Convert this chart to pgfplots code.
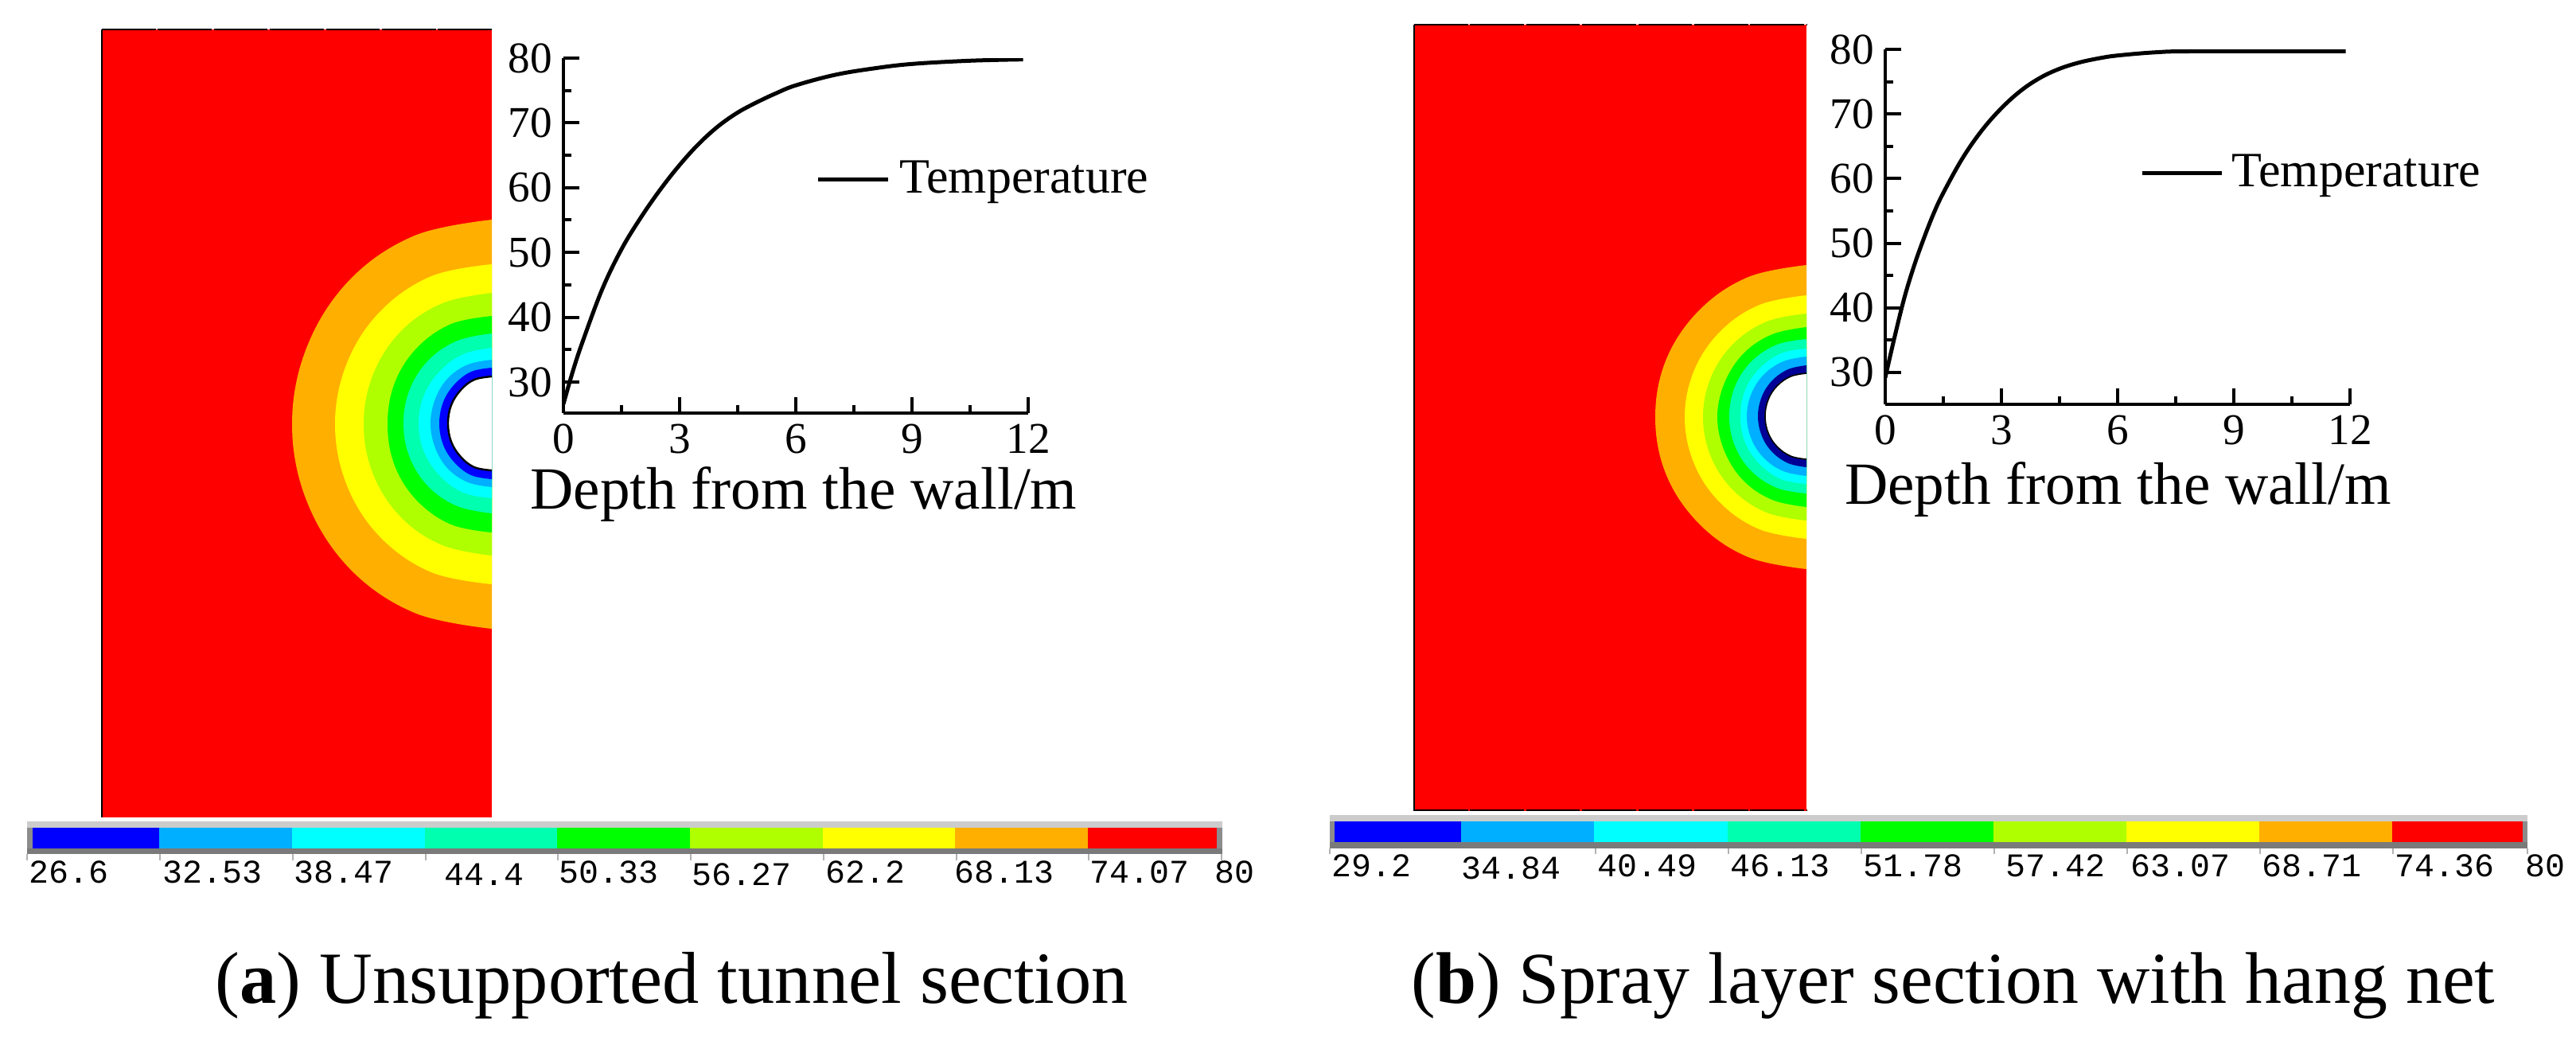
\documentclass[border=0pt]{standalone}
\usepackage{fontspec}
\setmainfont{Liberation Serif}
\newfontfamily\barfont{Liberation Mono}
\usepackage{pgfplots}
\pgfplotsset{compat=1.18}

% contour / colour bar colours
\definecolor{cBlue}{RGB}{0,0,255}
\definecolor{cNavy}{RGB}{0,0,150}
\definecolor{cSky}{RGB}{0,175,255}
\definecolor{cCyan}{RGB}{0,255,255}
\definecolor{cTeal}{RGB}{0,255,175}
\definecolor{cGreen}{RGB}{0,255,0}
\definecolor{cLime}{RGB}{175,255,0}
\definecolor{cYellow}{RGB}{255,255,0}
\definecolor{cOrange}{RGB}{255,175,0}
\definecolor{cRed}{RGB}{255,0,0}

\tikzset{
    barlabel/.style={anchor=base west,inner sep=0pt,font=\barfont\fontsize{10.4}{11}\selectfont},
}
\pgfplotsset{
    band/.style={fill=#1,draw=none,smooth,tension=0.625},
    box/.style={fill=#1,draw=none},
    tempaxis/.style={
        scale only axis,
        width=146pt,
        height=111.5pt,
        anchor=south west,
        axis lines*=left,
        axis line style={line width=1.1pt},
        xmin=0,xmax=12,ymax=80,
        xtick={0,3,6,9,12},
        ytick={30,40,50,60,70,80},
        minor tick num=1,
        tick align=inside,
        major tick length=5pt,
        minor tick length=2.5pt,
        every tick/.style={black,line width=1pt},
        tick label style={font=\fontsize{13.8}{14}\selectfont},
        /pgf/number format/assume math mode=true,
        xlabel={Depth from the wall/m},
        legend style={draw=none,fill=none,anchor=west,font=\fontsize{15.5}{16}\selectfont,inner sep=0pt},
    },
}

\begin{document}
\begin{tikzpicture}
\useasboundingbox (0,0) rectangle (809.25pt,-329.5pt);

% everything but the two curves, in picture pixels
\begin{axis}[
    at={(0,0)},anchor=north west,
    x=0.25pt,y=0.25pt,
    y dir=reverse,
    xmin=0,xmax=3237,ymin=0,ymax=1318,
    hide axis,clip=false,
]
% panel a contours
\addplot[box=cRed] coordinates {(128,37)(618,37)(618,1027)(128,1027)};
\addplot[black,line width=0.7pt,dash pattern=on 16.9pt off 0.7pt] coordinates {(128,37)(618,37)};
\addplot[black,line width=0.6pt] coordinates {(128,37)(128,1027)};
\addplot[band=cOrange] coordinates {(618,276)(521,296)(440,351)(386,435)(367,533)(386,631)(440,715)(521,770)(618,790)};
\addplot[band=cYellow] coordinates {(618,332)(542,347)(478,391)(436,456)(421,533)(436,610)(478,675)(542,719)(618,734)};
\addplot[band=cLime] coordinates {(618,368)(556,381)(504,416)(469,470)(457,533)(469,596)(504,650)(556,685)(618,698)};
\addplot[band=cGreen] coordinates {(618,397)(567,407)(524,437)(496,481)(487,533)(496,585)(524,629)(567,659)(618,669)};
\addplot[band=cTeal] coordinates {(618,419)(575,428)(539,452)(515,489)(507,532)(515,575)(539,612)(575,636)(618,645)};
\addplot[band=cCyan] coordinates {(618,437)(582,445)(553,466)(533,496)(526,532)(533,568)(553,598)(582,619)(618,626)};
\addplot[band=cSky] coordinates {(618,452)(588,458)(563,475)(547,501)(541,532)(547,563)(563,589)(588,606)(618,612)};
\addplot[band=cBlue] coordinates {(618,462)(592,467)(571,483)(557,505)(552,532)(557,559)(571,581)(592,597)(618,602)};
\addplot[fill=white,draw=black,line width=0.6pt,smooth,tension=0.625] coordinates {(618,473)(596,477)(579,490)(567,509)(563,532)(567,555)(579,574)(596,587)(618,591)};

% panel b contours
\addplot[box=cRed] coordinates {(1777,31)(2270,31)(2270,1019)(1777,1019)};
\addplot[black,line width=0.7pt,dash pattern=on 16.9pt off 0.7pt] coordinates {(1777,31)(2270,31)};
\addplot[black,line width=0.7pt,dash pattern=on 16.9pt off 0.7pt] coordinates {(1777,1018)(2270,1018)};
\addplot[black,line width=0.6pt] coordinates {(1777,31)(1777,1019)};
\addplot[band=cOrange] coordinates {(2270,333)(2197,348)(2136,389)(2094,451)(2080,524)(2094,597)(2136,659)(2197,700)(2270,715)};
\addplot[band=cYellow] coordinates {(2270,371)(2211,383)(2162,416)(2129,465)(2117,524)(2129,583)(2162,632)(2211,665)(2270,677)};
\addplot[band=cLime] coordinates {(2270,394)(2220,404)(2178,432)(2150,474)(2140,524)(2150,574)(2178,616)(2220,644)(2270,654)};
\addplot[band=cGreen] coordinates {(2270,411)(2227,420)(2191,444)(2167,481)(2158,524)(2167,567)(2191,604)(2227,628)(2270,637)};
\addplot[band=cTeal] coordinates {(2270,426)(2233,433)(2201,454)(2180,486)(2173,523)(2180,560)(2201,592)(2233,613)(2270,620)};
\addplot[band=cCyan] coordinates {(2270,438)(2238,444)(2211,463)(2193,490)(2187,523)(2193,556)(2211,583)(2238,602)(2270,608)};
\addplot[band=cSky] coordinates {(2270,448)(2241,454)(2217,470)(2201,494)(2195,523)(2201,552)(2217,576)(2241,592)(2270,598)};
\addplot[band=cNavy] coordinates {(2270,459)(2247,464)(2227,478)(2214,498)(2209,523)(2214,548)(2227,568)(2247,582)(2270,587)};
\addplot[fill=white,draw=black,line width=0.4pt,smooth,tension=0.625] coordinates {(2270,469)(2250,473)(2233,485)(2222,502)(2218,523)(2222,544)(2233,561)(2250,573)(2270,577)};

% colour bar a
\addplot[box={black!45}] coordinates {(34,1032)(1536,1032)(1536,1073)(34,1073)};
\addplot[box={black!20}] coordinates {(34,1032)(1536,1032)(1536,1040)(34,1040)};
\addplot[box={black!52}] coordinates {(34,1066)(1536,1066)(1536,1073)(34,1073)};
\addplot[box=cBlue] coordinates {(41,1040)(200,1040)(200,1066)(41,1066)};
\addplot[box=cSky] coordinates {(200,1040)(367,1040)(367,1066)(200,1066)};
\addplot[box=cCyan] coordinates {(367,1040)(534,1040)(534,1066)(367,1066)};
\addplot[box=cTeal] coordinates {(534,1040)(700,1040)(700,1066)(534,1066)};
\addplot[box=cGreen] coordinates {(700,1040)(867,1040)(867,1066)(700,1066)};
\addplot[box=cLime] coordinates {(867,1040)(1034,1040)(1034,1066)(867,1066)};
\addplot[box=cYellow] coordinates {(1034,1040)(1200,1040)(1200,1066)(1034,1066)};
\addplot[box=cOrange] coordinates {(1200,1040)(1367,1040)(1367,1066)(1200,1066)};
\addplot[box=cRed] coordinates {(1367,1040)(1529,1040)(1529,1066)(1367,1066)};
\addplot[black!30,line width=0.4pt] coordinates {(34,1073)(34,1081)};
\addplot[black!30,line width=0.4pt] coordinates {(201,1073)(201,1081)};
\addplot[black!30,line width=0.4pt] coordinates {(368,1073)(368,1081)};
\addplot[black!30,line width=0.4pt] coordinates {(535,1073)(535,1081)};
\addplot[black!30,line width=0.4pt] coordinates {(701,1073)(701,1081)};
\addplot[black!30,line width=0.4pt] coordinates {(868,1073)(868,1081)};
\addplot[black!30,line width=0.4pt] coordinates {(1035,1073)(1035,1081)};
\addplot[black!30,line width=0.4pt] coordinates {(1202,1073)(1202,1081)};
\addplot[black!30,line width=0.4pt] coordinates {(1368,1073)(1368,1081)};
\addplot[black!30,line width=0.4pt] coordinates {(1535,1073)(1535,1081)};
\node[barlabel] at (axis cs:36,1109) {26.6};
\node[barlabel] at (axis cs:204,1109) {32.53};
\node[barlabel] at (axis cs:369,1109) {38.47};
\node[barlabel] at (axis cs:558,1112) {44.4};
\node[barlabel] at (axis cs:702,1109) {50.33};
\node[barlabel] at (axis cs:869,1112) {56.27};
\node[barlabel] at (axis cs:1037,1109) {62.2};
\node[barlabel] at (axis cs:1199,1109) {68.13};
\node[barlabel] at (axis cs:1369,1109) {74.07};
\node[barlabel] at (axis cs:1526,1109) {80};

% colour bar b
\addplot[box={black!45}] coordinates {(1671,1024)(3176,1024)(3176,1066)(1671,1066)};
\addplot[box={black!20}] coordinates {(1671,1024)(3176,1024)(3176,1032)(1671,1032)};
\addplot[box={black!52}] coordinates {(1671,1058)(3176,1058)(3176,1066)(1671,1066)};
\addplot[box=cBlue] coordinates {(1677,1032)(1836,1032)(1836,1058)(1677,1058)};
\addplot[box=cSky] coordinates {(1836,1032)(2003,1032)(2003,1058)(1836,1058)};
\addplot[box=cCyan] coordinates {(2003,1032)(2171,1032)(2171,1058)(2003,1058)};
\addplot[box=cTeal] coordinates {(2171,1032)(2338,1032)(2338,1058)(2171,1058)};
\addplot[box=cGreen] coordinates {(2338,1032)(2505,1032)(2505,1058)(2338,1058)};
\addplot[box=cLime] coordinates {(2505,1032)(2672,1032)(2672,1058)(2505,1058)};
\addplot[box=cYellow] coordinates {(2672,1032)(2839,1032)(2839,1058)(2672,1058)};
\addplot[box=cOrange] coordinates {(2839,1032)(3006,1032)(3006,1058)(2839,1058)};
\addplot[box=cRed] coordinates {(3006,1032)(3170,1032)(3170,1058)(3006,1058)};
\addplot[black!30,line width=0.4pt] coordinates {(1671,1066)(1671,1073)};
\addplot[black!30,line width=0.4pt] coordinates {(2005,1066)(2005,1073)};
\addplot[black!30,line width=0.4pt] coordinates {(2172,1066)(2172,1073)};
\addplot[black!30,line width=0.4pt] coordinates {(2339,1066)(2339,1073)};
\addplot[black!30,line width=0.4pt] coordinates {(2506,1066)(2506,1073)};
\addplot[black!30,line width=0.4pt] coordinates {(2673,1066)(2673,1073)};
\addplot[black!30,line width=0.4pt] coordinates {(2840,1066)(2840,1073)};
\addplot[black!30,line width=0.4pt] coordinates {(3007,1066)(3007,1073)};
\addplot[black!30,line width=0.4pt] coordinates {(3176,1066)(3176,1073)};
\node[barlabel] at (axis cs:1673,1101) {29.2};
\node[barlabel] at (axis cs:1836,1104) {34.84};
\node[barlabel] at (axis cs:2007,1101) {40.49};
\node[barlabel] at (axis cs:2174,1101) {46.13};
\node[barlabel] at (axis cs:2341,1101) {51.78};
\node[barlabel] at (axis cs:2520,1101) {57.42};
\node[barlabel] at (axis cs:2677,1101) {63.07};
\node[barlabel] at (axis cs:2842,1101) {68.71};
\node[barlabel] at (axis cs:3009,1101) {74.36};
\node[barlabel] at (axis cs:3173,1101) {80};

% captions
\node[anchor=base west,inner sep=0pt,font=\fontsize{23.1}{24}\selectfont] at (axis cs:270,1260) {(\textbf{a}) Unsupported tunnel section};
\node[anchor=base west,inner sep=0pt,font=\fontsize{22.95}{24}\selectfont] at (axis cs:1773,1260) {(\textbf{b}) Spray layer section with hang net};
\end{axis}

% curve a
\begin{axis}[
    tempaxis,
    at={(177pt,-129.75pt)},
    ymin=25.2,
    xlabel style={at={(axis description cs:0.517,-0.271)},anchor=base,font=\fontsize{18.8}{19}\selectfont},
    legend style={at={(axis description cs:0.543,0.659)}},
    legend image code/.code={\draw[line width=1.2pt] (0pt,0pt) -- (22pt,0pt); \path (23pt,0pt);},
]
\addplot[black,line width=1.25pt,smooth,tension=0.6] coordinates {
    (0,26.6)(0.25,31.8)(0.5,36.3)(1,44.3)(1.5,50.5)(2,55.4)(2.5,59.7)(3,63.5)(3.5,66.8)(4,69.5)
    (4.5,71.6)(5,73.2)(5.5,74.6)(6,75.8)(7,77.4)(8,78.4)(9,79.1)(10.5,79.6)(11.87,79.8)
};
\legend{Temperature}
\end{axis}

% curve b
\begin{axis}[
    tempaxis,
    at={(592.25pt,-127pt)},
    ymin=25.06,
    xlabel style={at={(axis description cs:0.501,-0.281)},anchor=base,font=\fontsize{18.8}{19}\selectfont},
    legend style={at={(axis description cs:0.548,0.651)}},
    legend image code/.code={\draw[line width=1.2pt] (0pt,0pt) -- (25pt,0pt); \path (25.5pt,0pt);},
]
\addplot[black,line width=1.25pt,smooth,tension=0.6] coordinates {
    (0,29.2)(0.25,35.7)(0.5,41.7)(0.75,46.6)(1,50.8)(1.25,54.6)(1.5,57.8)(2,63.2)(2.5,67.5)(3,70.9)
    (3.5,73.6)(4,75.6)(4.5,77)(5,77.95)(5.5,78.6)(6,79.05)(7,79.55)(8,79.7)(11.89,79.7)
};
\legend{Temperature}
\end{axis}
\end{tikzpicture}
\end{document}
